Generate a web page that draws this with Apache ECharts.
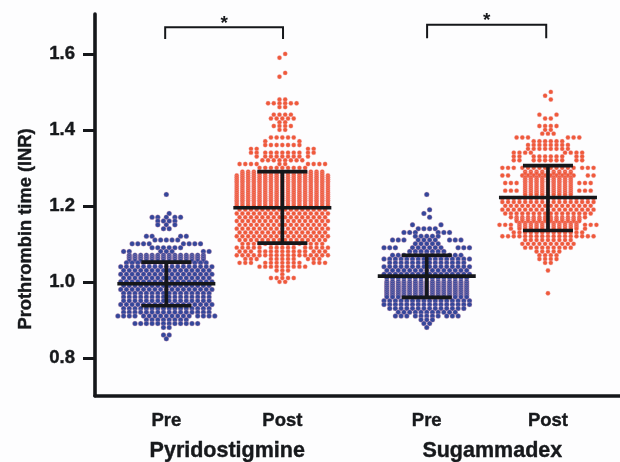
<!DOCTYPE html>
<html><head><meta charset="utf-8">
<style>html,body{margin:0;padding:0;background:#fdfdfe}#c{width:620px;height:462px}</style>
<script src="https://cdn.jsdelivr.net/npm/echarts@6/dist/echarts.min.js"></script>
</head><body><div id="c"></div>
<script>
// Axis texts and positions of the four columns
const yTicks = [0.8, 1.0, 1.2, 1.4, 1.6];
const columnLabels = ['Pre', 'Post', 'Pre', 'Post'];
const columnX = [1, 2, 3.245, 4.29];
const groupLabels = ['Pyridostigmine', 'Sugammadex'];
const groupX = [1.525, 3.81];
const yTitle = 'Prothrombin time (INR)';

// Observations per INR level: [value, central count, count on each flank, empty slots between flanks]
const prePyridoRows = [[1.23,1],[1.18,1],[1.17,1,2,1],[1.16,4],[1.15,1,1,1],[1.14,2],[1.12,0,2,4],[1.11,5],[1.10,0,4,5],[1.09,6],
[1.08,3,2,9],[1.07,14],[1.065,14],[1.06,14],[1.055,14],[1.05,15],[1.04,17],[1.03,16],[1.02,17],[1.01,16],[1.00,17],[0.99,16],[0.98,17],[0.97,16],
[0.96,16],[0.95,16],[0.94,17],[0.93,16],[0.92,16],[0.91,9,4,1],[0.90,8],[0.89,12],[0.88,2],[0.86,2],[0.85,1]];
const postPyridoRows = [[1.60,1],[1.59,1],[1.55,1],[1.54,1],[1.48,2],[1.47,6],[1.46,2],[1.44,4],[1.43,5],[1.42,2],[1.41,4],[1.40,2],
[1.38,5],[1.37,0,1,5],[1.36,7],[1.35,0,2,8],[1.34,7,2,1],[1.33,7,1,1],[1.32,8],[1.31,2,4,6],[1.30,9],
[1.29,15],[1.285,15],[1.28,17],[1.275,17],[1.27,17],[1.265,17],[1.26,17],[1.255,17],[1.25,17],[1.245,17],[1.24,17],[1.235,17],[1.23,17],[1.225,17],
[1.22,17],[1.215,17],[1.21,17],[1.205,17],[1.20,17],[1.19,16],[1.18,17],[1.17,16],
[1.16,17],[1.15,16],[1.14,17],[1.13,16],[1.12,17],[1.11,16],[1.10,15],[1.09,5,5,2],[1.08,9,3,1],[1.07,17],[1.06,5,3,3],[1.05,7,3,3],
[1.04,9],[1.03,3],[1.02,1],[1.01,5],[1.00,2]];
const preSugRows = [[1.23,1],[1.19,1],[1.18,1],[1.17,1],[1.15,0,1,4],[1.14,4],[1.13,0,3,3],[1.12,5],[1.11,4,3,3],[1.10,5],
[1.09,6,3,4],[1.08,7],[1.07,13],[1.06,16],[1.05,14],[1.04,16],[1.03,15],[1.02,16],[1.01,15],[1.00,15],[0.995,15],[0.99,15],[0.985,15],[0.98,15],[0.975,15],[0.97,15],[0.965,15],
[0.96,15],[0.95,16],[0.94,16],[0.93,14],[0.92,11],[0.91,5,3,1],[0.90,3],[0.89,2],[0.88,1]];
const postSugRows = [[1.50,1],[1.49,1],[1.48,1],[1.44,0,1,2],[1.43,2],[1.41,4],[1.40,2],[1.39,3],[1.38,0,3,6],[1.37,6],[1.36,8],[1.35,8],
[1.34,0,4,5],[1.33,6,2,3],[1.32,6,2,3],[1.30,10,3,1],[1.29,9],[1.285,9],[1.28,10,2,3],[1.275,9],[1.27,9],[1.265,9],[1.26,9,3,1],[1.255,9],[1.25,9],[1.245,9],[1.24,9,3,1],[1.235,9],[1.23,9],
[1.22,17],[1.21,17],[1.20,16],[1.19,17],[1.18,16],[1.17,14],[1.165,12],[1.16,12],[1.155,11],[1.15,11,3,1],[1.145,11],[1.14,11,1,1],[1.13,13],[1.12,17],[1.11,9],
[1.10,10],[1.09,9],[1.08,5],[1.07,4],[1.06,4],[1.05,2],[1.03,1],[0.97,1]];

// Mean and SD bars, one entry per column
const barMean = [0.995, 1.195, 1.015, 1.222];
const barLow = [0.937, 1.102, 0.959, 1.135];
const barHigh = [1.052, 1.290, 1.070, 1.306];

// Significance brackets: [from, to, top, foot]
const brackets = [[0.99, 2.006, 1.670, 1.639], [3.248, 4.275, 1.677, 1.641]];

const SLOT = 5.7 / 116;
function swarm(rows, cx) {
  const pts = [];
  let side = 1;
  rows.forEach((r, i) => {
    const [v, c, f = 0, gap = 0] = r;
    let nudge = 0;
    const prev = rows[i - 1], next = rows[i + 1];
    if (c === 1 && !f && ((prev && prev[1] === 1 && prev[0] - v < 0.015) || (next && next[1] === 1 && v - next[0] < 0.015))) {
      nudge = side * 0.5; side = -side;
    }
    for (let k = 0; k < c; k++) pts.push([cx + ((k - (c - 1) / 2) + nudge) * SLOT, v]);
    const start = (c + gap) / 2 + 0.5;
    for (let k = 0; k < f; k++) {
      pts.push([cx + (start + k) * SLOT, v]);
      pts.push([cx - (start + k) * SLOT, v]);
    }
  });
  return pts;
}
const BLUE = '#34479b', RED = '#ef5a3a', INK = '#15171a';
const dots = (rows, i, color, size) => ({
  type: 'scatter', data: swarm(rows, columnX[i]), symbolSize: size, silent: true, animation: false,
  itemStyle: { color, opacity: 1, borderColor: 'rgba(240,170,180,0.55)', borderWidth: 0.6 }
});
const lineStyle = { stroke: INK, lineWidth: 3.6 };
const font = (s) => ({ fontFamily: '"Liberation Sans",Arial,sans-serif', fontWeight: 'bold', fontSize: s, color: '#17191c',
  textBorderColor: '#17191c', textBorderWidth: 0.4 });

const opt = {
  backgroundColor: '#fdfdfe',
  animation: false,
  grid: { left: 95, right: 0, top: 14, bottom: 64 },
  xAxis: [
    { type: 'value', min: 0.385, max: 4.911, position: 'bottom', splitLine: { show: false },
      axisLine: { onZero: false, lineStyle: { color: INK, width: 3.6 } }, axisTick: { show: false },
      axisLabel: { ...font(18.5), margin: 16, customValues: columnX,
        formatter: v => columnLabels[columnX.findIndex(x => Math.abs(x - v) < 1e-6)] || '' } },
    { type: 'value', min: 0.385, max: 4.911, position: 'bottom', splitLine: { show: false },
      axisLine: { show: false }, axisTick: { show: false },
      axisLabel: { ...font(21.5), margin: 44, customValues: groupX,
        formatter: v => groupLabels[groupX.findIndex(x => Math.abs(x - v) < 1e-6)] || '' } }
  ],
  yAxis: { type: 'value', min: 0.7, max: 1.705, splitLine: { show: false },
    axisLine: { onZero: false, lineStyle: { color: INK, width: 3.6 } },
    axisTick: { length: 12, lineStyle: { color: INK, width: 3 }, customValues: yTicks },
    axisLabel: { ...font(18.5), margin: 20, customValues: yTicks, formatter: v => v.toFixed(1) } },
  graphic: [{ type: 'text', x: 26, y: 229, rotation: Math.PI / 2,
    style: { text: yTitle, font: 'bold 18.3px "Liberation Sans",Arial,sans-serif', fill: '#17191c', stroke: '#17191c', lineWidth: 0.4, align: 'center', verticalAlign: 'middle' } }],
  series: [
    dots(prePyridoRows, 0, BLUE, 5),
    dots(postPyridoRows, 1, RED, 4.4),
    dots(preSugRows, 2, BLUE, 5),
    dots(postSugRows, 3, RED, 4.4),
    { type: 'custom', silent: true, animation: false, z: 5, coordinateSystem: 'cartesian2d',
      data: columnX.map((x, i) => [x, barLow[i], barMean[i], barHigh[i]]),
      renderItem: (p, api) => {
        const x = api.value(0), lo = api.coord([x, api.value(1)]), me = api.coord([x, api.value(2)]), hi = api.coord([x, api.value(3)]);
        const seg = (a, b, c, d) => ({ type: 'line', shape: { x1: a, y1: b, x2: c, y2: d }, style: lineStyle });
        return { type: 'group', children: [
          seg(lo[0], lo[1], hi[0], hi[1]), seg(me[0] - 49, me[1], me[0] + 49, me[1]),
          seg(lo[0] - 25, lo[1], lo[0] + 25, lo[1]), seg(hi[0] - 25, hi[1], hi[0] + 25, hi[1])] };
      } },
    { type: 'custom', silent: true, animation: false, z: 5, coordinateSystem: 'cartesian2d',
      data: brackets,
      renderItem: (p, api) => {
        const a = api.coord([api.value(0), api.value(2)]), b = api.coord([api.value(1), api.value(3)]);
        return { type: 'group', children: [
          { type: 'polyline', shape: { points: [[a[0], b[1]], [a[0], a[1]], [b[0], a[1]], [b[0], b[1]]] },
            style: { stroke: INK, lineWidth: 2, fill: null } },
          { type: 'text', style: { text: '*', x: (a[0] + b[0]) / 2, y: a[1] - 4, align: 'center', verticalAlign: 'middle',
            font: 'bold 19px "Liberation Sans",Arial,sans-serif', fill: '#17191c' } }] };
      } }
  ]
};
echarts.init(document.getElementById('c'), null, { renderer: 'canvas' }).setOption(opt);
</script></body></html>
